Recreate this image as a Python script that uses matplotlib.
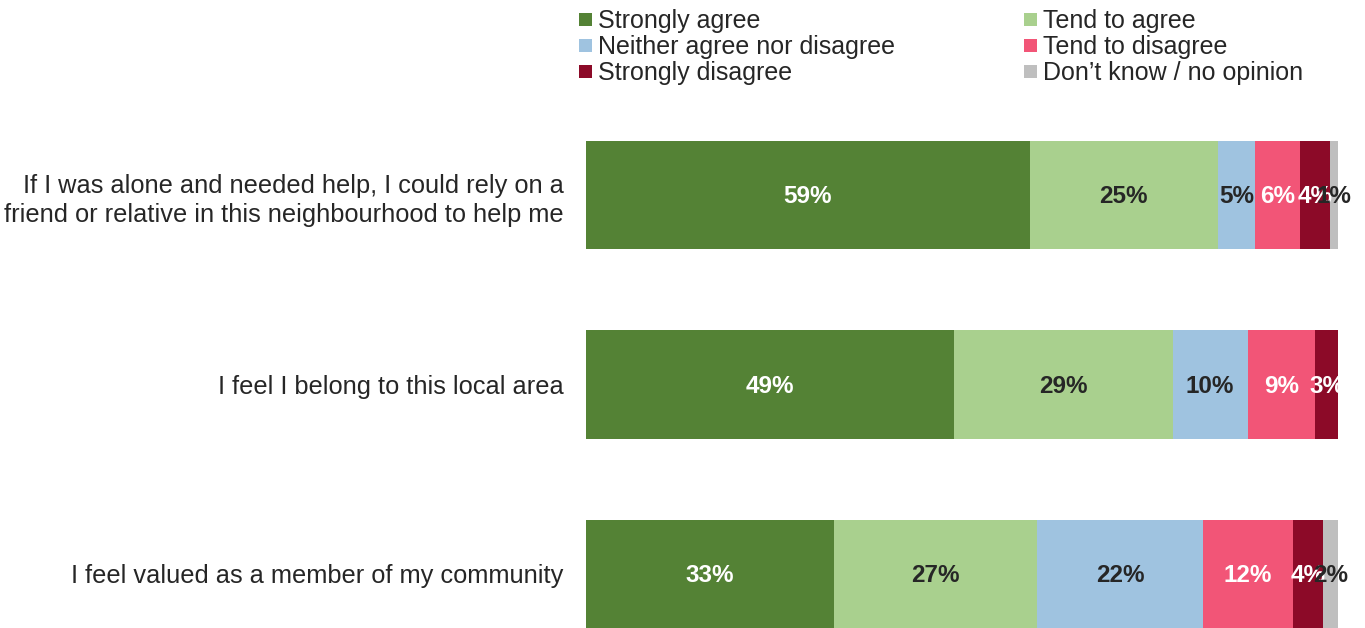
import matplotlib
matplotlib.use("Agg")
import matplotlib.pyplot as plt
from matplotlib.patches import Rectangle

plt.rcParams['font.family'] = ['Liberation Sans', 'DejaVu Sans']

statements = [
    "If I was alone and needed help, I could rely on a\nfriend or relative in this neighbourhood to help me",
    "I feel I belong to this local area",
    "I feel valued as a member of my community",
]
responses = ["Strongly agree", "Tend to agree", "Neither agree nor disagree",
             "Tend to disagree", "Strongly disagree", "Don\u2019t know / no opinion"]
strongly_agree = [59, 49, 33]
tend_agree = [25, 29, 27]
neither = [5, 10, 22]
tend_disagree = [6, 9, 12]
strongly_disagree = [4, 3, 4]
dont_know = [1, 0, 2]

colors = ["#548235", "#A9D08E", "#9FC3E0", "#F25577", "#8C0A28", "#BFBFBF"]
label_colors = ["white", "#262626", "#262626", "white", "white", "#262626"]
text_color = "#262626"

series = [strongly_agree, tend_agree, neither, tend_disagree, strongly_disagree, dont_know]

W, H = 1365, 628
fig = plt.figure(figsize=(W / 100, H / 100), dpi=100)
ax = fig.add_axes([586 / W, 0.0, 752 / W, 487 / H])

y = list(range(len(statements)))
left = [0] * len(statements)
for vals, col, tcol in zip(series, colors, label_colors):
    ax.barh(y, vals, left=left, height=0.57, color=col, edgecolor="none")
    for yi, v, l in zip(y, vals, left):
        if v > 0:
            ax.text(l + v / 2, yi + 0.01, f"{v}%", ha="center", va="center",
                    color=tcol, fontsize=17.5, fontweight="bold")
    left = [a + b for a, b in zip(left, vals)]

ax.set_xlim(0, 100)
ax.set_ylim(2.285, -0.285)
ax.set_yticks(y)
ax.set_yticklabels(statements, fontsize=18.3, color=text_color, ha="right",
                   multialignment="right", linespacing=1.3)
ax.tick_params(axis="y", length=0, pad=16)
ax.set_xticks([])
for s in ax.spines.values():
    s.set_visible(False)

# Two-column legend, filled row by row
col_x = [579, 1024]
row_y = [21, 47, 73]
for i, (name, col) in enumerate(zip(responses, colors)):
    cx = col_x[i % 2]
    cy = row_y[i // 2]
    fig.add_artist(Rectangle((cx / W, 1 - (cy + 5) / H), 13 / W, 13 / H,
                             transform=fig.transFigure, facecolor=col,
                             edgecolor="none"))
    fig.text((cx + 19) / W, 1 - cy / H, name, ha="left", va="center",
             fontsize=18, color=text_color)

fig.savefig("out.png", dpi=100)
